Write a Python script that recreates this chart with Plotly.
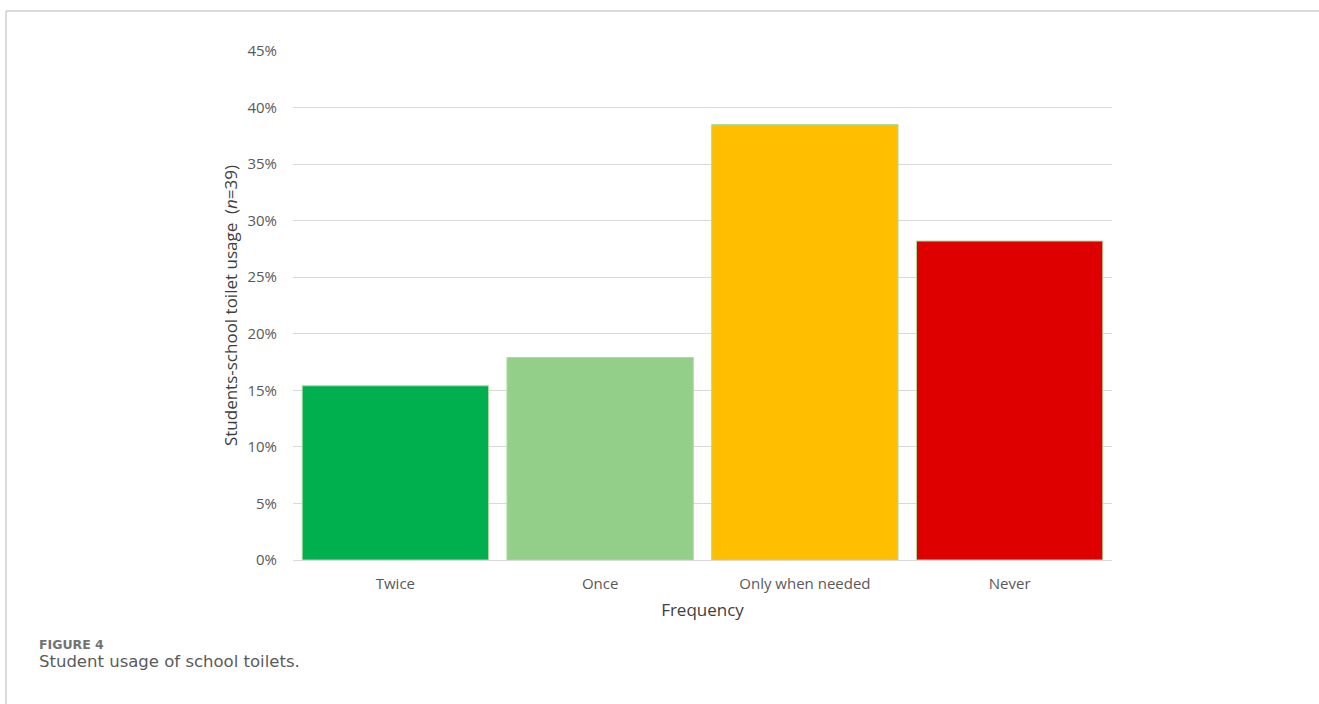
import plotly.graph_objects as go

# Survey responses (n = 39)
categories = ["Twice", "Once", "Only when needed", "Never"]
shares = [0.154, 0.179, 0.385, 0.282]
bar_colors = ["#00B04F", "#94CF8A", "#FFBF00", "#DE0000"]
y_ticks = [0, 0.05, 0.10, 0.15, 0.20, 0.25, 0.30, 0.35, 0.40, 0.45]
y_tick_labels = ["0%", "5%", "10%", "15%", "20%", "25%", "30%", "35%", "40%", "45%"]

W, H = 1319, 704
L, R, T, B = 293, 207, 51, 144
pw, ph = W - L - R, H - T - B


def px(x):
    return (x - L) / pw


def py(y):
    return (H - B - y) / ph


font_family = "Open Sans, Segoe UI, DejaVu Sans, sans-serif"
caption_family = "DejaVu Sans, Lato, sans-serif"

fig = go.Figure(
    go.Bar(
        x=categories,
        y=shares,
        marker=dict(color=bar_colors, line=dict(color="#A9DBA0", width=1)),
        width=0.91,
        hoverinfo="x+y",
    )
)

fig.update_layout(
    width=W,
    height=H,
    margin=dict(l=L, r=R, t=T, b=B),
    paper_bgcolor="white",
    plot_bgcolor="white",
    showlegend=False,
    font=dict(family=font_family, color="#595959"),
    xaxis=dict(
        showgrid=False,
        showline=False,
        ticks="",
        tickfont=dict(size=15, color="#595959"),
        ticklabelstandoff=13,
        title=dict(text="Frequency", font=dict(size=17, color="#404040"), standoff=12),
    ),
    yaxis=dict(
        range=[0, 0.45],
        tickvals=y_ticks,
        ticktext=y_tick_labels,
        showgrid=True,
        gridcolor="#D9D9D9",
        gridwidth=1,
        zeroline=True,
        zerolinecolor="#D9D9D9",
        zerolinewidth=1,
        showline=False,
        ticks="",
        tickfont=dict(size=15, color="#595959"),
        ticklabelstandoff=15,
        title=dict(
            text="Students-school toilet usage  (<i>n</i>=39)",
            font=dict(size=17, color="#404040"),
            standoff=5,
        ),
    ),
    shapes=[
        dict(type="line", xref="paper", yref="paper",
             x0=px(6), x1=px(W + 5), y0=py(11), y1=py(11),
             line=dict(color="#CFCFCF", width=1.5)),
        dict(type="line", xref="paper", yref="paper",
             x0=px(6), x1=px(6), y0=py(11), y1=py(H + 5),
             line=dict(color="#CFCFCF", width=1.5)),
    ],
    annotations=[
        dict(text="<b>FIGURE 4</b>", xref="paper", yref="paper",
             x=px(37), y=py(644), xanchor="left", yanchor="middle",
             showarrow=False, font=dict(size=12.5, color="#737373", family=caption_family)),
        dict(text="Student usage of school toilets.", xref="paper", yref="paper",
             x=px(37), y=py(661), xanchor="left", yanchor="middle",
             showarrow=False, font=dict(size=16.5, color="#5A5A5A", family=caption_family)),
    ],
)

fig.write_html("out.html")
